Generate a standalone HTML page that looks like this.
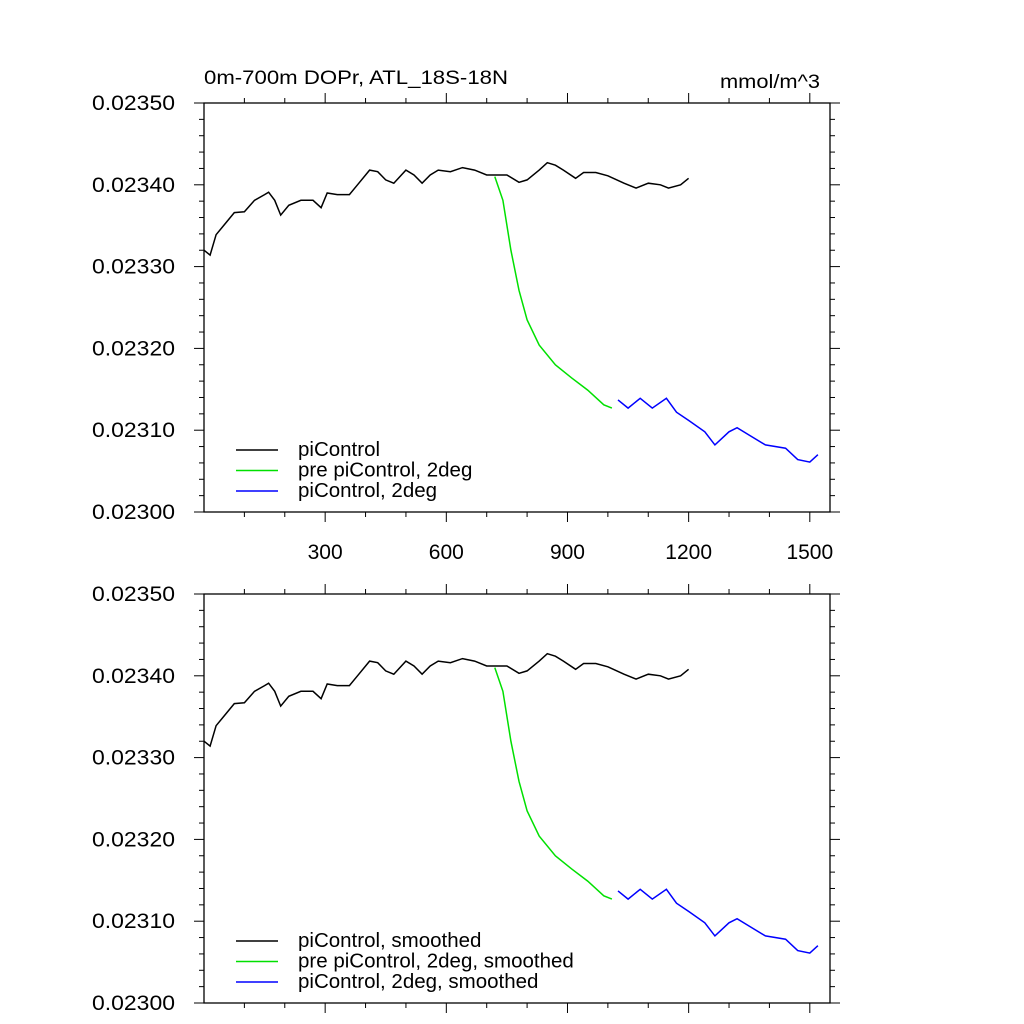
<!DOCTYPE html>
<html><head><meta charset="utf-8"><style>
body{margin:0;background:#fff;overflow:hidden}
svg{display:block;font-family:"Liberation Sans",sans-serif}
</style></head><body>
<svg id="c" width="1024" height="1024" viewBox="0 0 1024 1024"></svg>
<script>
// values in 1e-6 above 0.023
const blackYears=[0,15,30,50,75,100,125,150,160,175,190,210,240,270,290,305,330,360,380,410,430,450,470,500,520,540,560,580,610,640,670,700,720,750,780,800,830,850,870,890,920,940,970,1000,1040,1070,1100,1130,1150,1180,1200];
const blackVals=[320,314,339,351,366,367,381,388,391,381,363,375,381,381,372,390,388,388,400,418,416,406,402,418,412,402,412,418,416,421,418,412,412,412,403,406,418,427,424,418,408,415,415,411,402,396,402,400,396,400,408];
const greenYears=[720,740,760,780,800,830,870,910,950,990,1010];
const greenVals=[410,381,320,271,235,204,180,164,149,131,127];
const blueYears=[1025,1050,1080,1110,1145,1170,1200,1240,1265,1300,1320,1350,1390,1440,1470,1500,1520];
const blueVals=[137,127,139,127,139,122,112,98,82,98,103,94,82,78,64,61,70];
const yTicks=["0.02300","0.02310","0.02320","0.02330","0.02340","0.02350"];
const xTicks=[300,600,900,1200,1500];
const legendTop=["piControl","pre piControl, 2deg","piControl, 2deg"];
const legendBottom=["piControl, smoothed","pre piControl, 2deg, smoothed","piControl, 2deg, smoothed"];

const svg=document.getElementById('c');
const NS='http://www.w3.org/2000/svg';
const L=204,R=830,XMIN=0,XMAX=1550,VMAX=500;
function X(yr){return L+(yr-XMIN)/(XMAX-XMIN)*(R-L);}
function mk(t,a,p){const e=document.createElementNS(NS,t);for(const k in a)e.setAttribute(k,a[k]);(p||svg).appendChild(e);return e;}
function panel(top,bot,legend,showX,idx){
  const Y=v=>bot-v/VMAX*(bot-top);
  const g=mk('g',{});
  
  
  const fr=mk('rect',{x:L,y:top,width:R-L,height:bot-top,fill:'none',stroke:'#000','stroke-width':1.3},g);
  
  
  for(let i=0;i<=25;i++){
    const y=top+(bot-top)*i/25, major=i%5===0, len=major?10:5;
    mk('line',{x1:L-len,x2:L,y1:y,y2:y,stroke:'#000','stroke-width':1},g);
    mk('line',{x1:R,x2:R+len,y1:y,y2:y,stroke:'#000','stroke-width':1},g);
  }
  yTicks.forEach((t,i)=>{
    const v=i*100;
    const tx=mk('text',{x:92,y:Y(v)+7,'font-size':21,textLength:83,lengthAdjust:'spacingAndGlyphs'},g);tx.textContent=t;
    
    
  });
  for(let yr=100;yr<=1500;yr+=100){
    const x=X(yr),major=yr%300===0,len=major?10:5;
    mk('line',{x1:x,x2:x,y1:top-len,y2:top,stroke:'#000','stroke-width':1},g);
    mk('line',{x1:x,x2:x,y1:bot,y2:bot+len,stroke:'#000','stroke-width':1},g);
  }
  if(showX) xTicks.forEach(t=>{
    const tx=mk('text',{x:X(t),y:bot+47,'text-anchor':'middle','font-size':21},g);tx.textContent=t;
    
    
  });
  const series=[[blackYears,blackVals,'#000','black-line'],[greenYears,greenVals,'#00e000','green-line'],[blueYears,blueVals,'#0000ff','blue-line']];
  series.forEach(([xs,vs,c,n],k)=>{
    const p=mk('polyline',{points:xs.map((yr,i)=>X(yr).toFixed(1)+','+Y(vs[i]).toFixed(1)).join(' '),fill:'none',stroke:c,'stroke-width':1.5},g);
    
    
    const ly=bot-62+k*20.5;
    const ll=mk('line',{x1:236,x2:278,y1:ly,y2:ly,stroke:c,'stroke-width':1.5},g);
    
    
    const lt=mk('text',{x:298,y:ly+6,'font-size':20.5},g);lt.textContent=legend[k];
    
    
  });
}
panel(103,512,legendTop,true,'top');
panel(594,1003,legendBottom,false,'bottom');
const t1=mk('text',{x:204,y:84,'font-size':19.5,textLength:304,lengthAdjust:'spacingAndGlyphs'});t1.textContent='0m-700m DOPr, ATL_18S-18N';


const t2=mk('text',{x:720,y:88,'font-size':19.5,textLength:100,lengthAdjust:'spacingAndGlyphs'});t2.textContent='mmol/m^3';


</script>
</body></html>
